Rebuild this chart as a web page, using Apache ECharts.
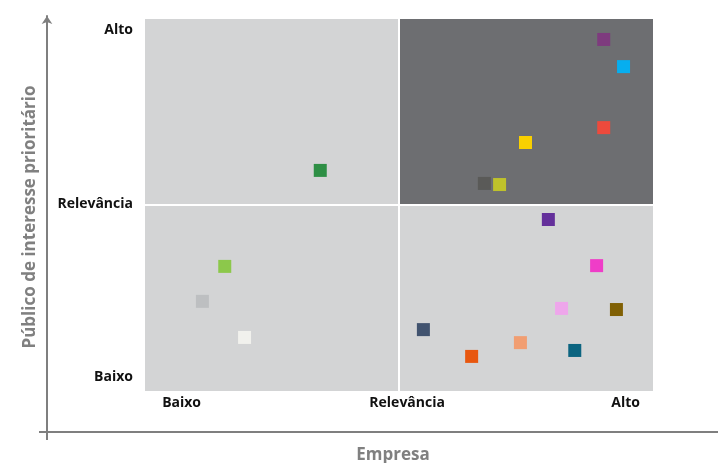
<!DOCTYPE html>
<html>
<head>
<meta charset="utf-8">
<script src="https://cdn.jsdelivr.net/npm/echarts@6/dist/echarts.min.js"></script>
<style>html,body{margin:0;padding:0;background:#fff}#c{width:718px;height:463px}</style>
</head>
<body>
<div id="c"></div>
<script>
// Topics: x = Empresa, y = Público de interesse prioritário (0–100 scale)
const topicX = [34.5, 90.3, 94.2, 90.3, 74.9, 66.8, 69.8, 79.4, 88.9, 82.0, 92.8, 54.8, 64.3, 73.9, 84.6, 15.7, 11.3, 19.6];
const topicY = [59.3, 94.5, 87.2, 70.8, 66.8, 55.8, 55.5, 46.1, 33.7, 22.2, 21.9, 16.5, 9.3, 13.0, 10.9, 33.5, 24.1, 14.4];
const topicColors = ['#2e8f45', '#7e3b7e', '#06aeef', '#ed4a3c', '#f9d000', '#5a5a58', '#bfc22b', '#64309b', '#ef3dc8', '#eea6eb', '#806004', '#41536f', '#e8570f', '#f19e72', '#0b6480', '#8cc84b', '#bdbfc1', '#f1f1ed'];

const xTickLabels = ['Baixo', 'Relevância', 'Alto'];
const xTickValues = [7.2, 51.6, 94.6];
const yTickLabels = ['Baixo', 'Relevância', 'Alto'];
const yTickValues = [3.8, 50.2, 97.0];
const splitValue = 50;
const xAxisTitle = 'Empresa';
const yAxisTitle = 'Público de interesse prioritário';

const FONT = 'Open Sans';
const chart = echarts.init(document.getElementById('c'), null, {renderer: 'canvas'});

const points = topicX.map((x, i) => ({value: [x, topicY[i]], itemStyle: {color: topicColors[i]}}));

chart.setOption({
  animation: false,
  grid: [
    {left: 145, top: 19, width: 508, height: 372, show: true, backgroundColor: '#d3d4d5', borderWidth: 0, outerBoundsMode: 'none', containLabel: false},
    {left: 47, top: 16, right: 0, bottom: 31, show: false, outerBoundsMode: 'none', containLabel: false}
  ],
  xAxis: [
    {
      gridIndex: 0, type: 'value', min: 0, max: 100,
      axisLine: {show: false}, axisTick: {show: false}, splitLine: {show: false},
      axisLabel: {
        customValues: xTickValues, margin: 5,
        formatter: v => xTickLabels[xTickValues.indexOf(v)],
        color: '#111', fontFamily: FONT, fontWeight: 'bold', fontSize: 14
      },
      name: xAxisTitle, nameLocation: 'middle', nameGap: 56,
      nameTextStyle: {color: '#808080', fontFamily: FONT, fontWeight: 'bold', fontSize: 17, padding: [0, 12, 0, 0]}
    },
    {
      gridIndex: 1, type: 'value', min: 0, max: 1,
      axisLine: {show: true, lineStyle: {color: '#7f7f7f', width: 2}},
      axisTick: {show: true, customValues: [0], length: 8, lineStyle: {color: '#7f7f7f', width: 2}},
      axisLabel: {show: false}, splitLine: {show: false}
    }
  ],
  yAxis: [
    {
      gridIndex: 0, type: 'value', min: 0, max: 100,
      axisLine: {show: false}, axisTick: {show: false}, splitLine: {show: false},
      axisLabel: {
        customValues: yTickValues, margin: 12,
        formatter: v => yTickLabels[yTickValues.indexOf(v)],
        color: '#111', fontFamily: FONT, fontWeight: 'bold', fontSize: 14
      },
      name: yAxisTitle, nameLocation: 'middle', nameGap: 106,
      nameTextStyle: {color: '#808080', fontFamily: FONT, fontWeight: 'bold', fontSize: 17, padding: [0, 24, 0, 0]}
    },
    {
      gridIndex: 1, type: 'value', min: 0, max: 1,
      axisLine: {show: true, symbol: ['none', 'arrow'], symbolSize: [8, 8], lineStyle: {color: '#7f7f7f', width: 2}},
      axisTick: {show: true, customValues: [0], length: 8, lineStyle: {color: '#7f7f7f', width: 2}},
      axisLabel: {show: false}, splitLine: {show: false}
    }
  ],
  series: [
    {
      type: 'scatter', xAxisIndex: 0, yAxisIndex: 0, data: [], silent: true, z: 1,
      markArea: {
        silent: true,
        itemStyle: {color: '#6d6e71', opacity: 1},
        data: [[{xAxis: splitValue, yAxis: splitValue}, {xAxis: 100, yAxis: 100}]]
      },
      markLine: {
        silent: true, symbol: 'none', label: {show: false},
        lineStyle: {color: '#ffffff', width: 2, type: 'solid', opacity: 1},
        data: [{xAxis: splitValue}, {yAxis: splitValue}]
      }
    },
    {
      type: 'scatter', xAxisIndex: 0, yAxisIndex: 0, z: 5,
      symbol: 'rect', symbolSize: 13,
      itemStyle: {opacity: 1},
      data: points
    }
  ]
});
</script>
</body>
</html>
